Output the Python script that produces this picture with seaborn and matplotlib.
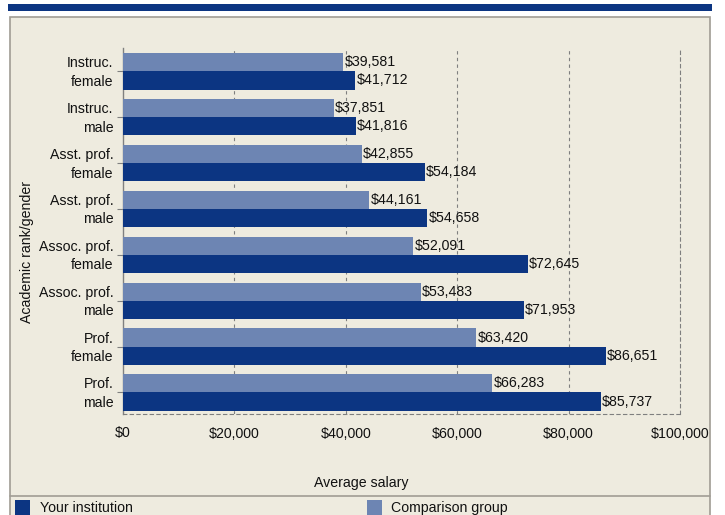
import matplotlib
matplotlib.use("Agg")
import matplotlib.pyplot as plt
from matplotlib.patches import Rectangle
from matplotlib.lines import Line2D
from matplotlib.transforms import ScaledTranslation
import pandas as pd
import seaborn as sns

# Academic rank / gender groups, top to bottom
categories = [
    "Instruc.\nfemale", "Instruc.\nmale",
    "Asst. prof.\nfemale", "Asst. prof.\nmale",
    "Assoc. prof.\nfemale", "Assoc. prof.\nmale",
    "Prof.\nfemale", "Prof.\nmale",
]
comparison_group = [39581, 37851, 42855, 44161, 52091, 53483, 63420, 66283]
your_institution = [41712, 41816, 54184, 54658, 72645, 71953, 86651, 85737]
series_names = ["Comparison group", "Your institution"]
x_ticks = [0, 20000, 40000, 60000, 80000, 100000]

DARK = "#0C3582"
LIGHT = "#6D85B3"
BG = "#EEEBDF"
FRAME = "#A09C94"
FS = 10.2

df = pd.DataFrame({
    "group": categories * 2,
    "series": [series_names[0]] * len(categories) + [series_names[1]] * len(categories),
    "salary": comparison_group + your_institution,
})

sns.set_style("white")
plt.rcParams["font.family"] = ["Liberation Sans", "DejaVu Sans"]
plt.rcParams["font.size"] = FS

fig = plt.figure(figsize=(7.25, 5.15), dpi=100)
fig.patch.set_facecolor("white")
W, H = 725, 515

def fx(px):
    return px / W

def fy(py):
    return 1 - py / H

# header band and panel frame
fig.patches.append(Rectangle((fx(8), fy(11)), fx(704), 7 / H, transform=fig.transFigure,
                             facecolor=DARK, edgecolor="none", zorder=-2))
fig.patches.append(Rectangle((fx(10), fy(517)), fx(700), 500 / H, transform=fig.transFigure,
                             facecolor=BG, edgecolor=FRAME, linewidth=1.2, zorder=-2))
fig.lines.append(Line2D([fx(10), fx(710)], [fy(496), fy(496)], transform=fig.transFigure,
                        color=FRAME, linewidth=1.2, zorder=-1))

ax = fig.add_axes([fx(123), fy(414), fx(680 - 123), (414 - 48) / H])
ax.set_facecolor(BG)
ax.set_zorder(1)

sns.barplot(data=df, y="group", x="salary", hue="series", hue_order=series_names,
            order=categories, palette=[LIGHT, DARK], orient="h", width=0.79,
            saturation=1, dodge=True, legend=False, ax=ax, zorder=3, linewidth=0)

for cont in ax.containers:
    ax.bar_label(cont, labels=[f"${v:,.0f}" for v in cont.datavalues], padding=1,
                 fontsize=FS, color="#111111", zorder=4)

ax.set_xlim(0, 100000)
ax.set_ylim(7.47, -0.51)
ax.set_xticks(x_ticks)
ax.set_xticklabels([f"${v:,.0f}" for v in x_ticks])
ax.tick_params(axis="x", length=0, pad=9, labelsize=FS, colors="#111111")
ax.tick_params(axis="y", length=4, width=0.8, color="#808080", pad=3, labelsize=FS,
               labelcolor="#111111", left=True)
lift = ScaledTranslation(0, 2.5 / 100, fig.dpi_scale_trans)
for lbl in ax.get_yticklabels():
    lbl.set_linespacing(1.4)
    lbl.set_transform(lbl.get_transform() + lift)

for xv in x_ticks[1:-1]:
    ax.axvline(xv, color="#7F7F7F", linestyle=(0, (3, 3)), linewidth=0.8, zorder=1)

ax.spines["top"].set_visible(False)
ax.spines["left"].set_color("#808080")
ax.spines["left"].set_linewidth(1.0)
for side in ["right", "bottom"]:
    ax.spines[side].set_color("#7F7F7F")
    ax.spines[side].set_linestyle((0, (3, 3)))
    ax.spines[side].set_linewidth(0.8)

ax.set_ylabel("")
ax.set_xlabel("")
fig.text(fx(27), fy(252), "Academic rank/gender", rotation=90, ha="center", va="center",
         fontsize=FS, color="#111111")
fig.text(fx(361), fy(483), "Average salary", ha="center", va="center", fontsize=FS,
         color="#111111")

# legend along the bottom edge
fig.patches.append(Rectangle((fx(15), fy(520)), fx(15), 20 / H, transform=fig.transFigure,
                             facecolor=DARK, edgecolor="none", zorder=2))
fig.text(fx(40), fy(508), "Your institution", ha="left", va="center", fontsize=FS, color="#111111")
fig.patches.append(Rectangle((fx(367), fy(520)), fx(15), 20 / H, transform=fig.transFigure,
                             facecolor=LIGHT, edgecolor="none", zorder=2))
fig.text(fx(391), fy(508), "Comparison group", ha="left", va="center", fontsize=FS, color="#111111")

fig.savefig("out.png", dpi=100, facecolor=fig.get_facecolor())
